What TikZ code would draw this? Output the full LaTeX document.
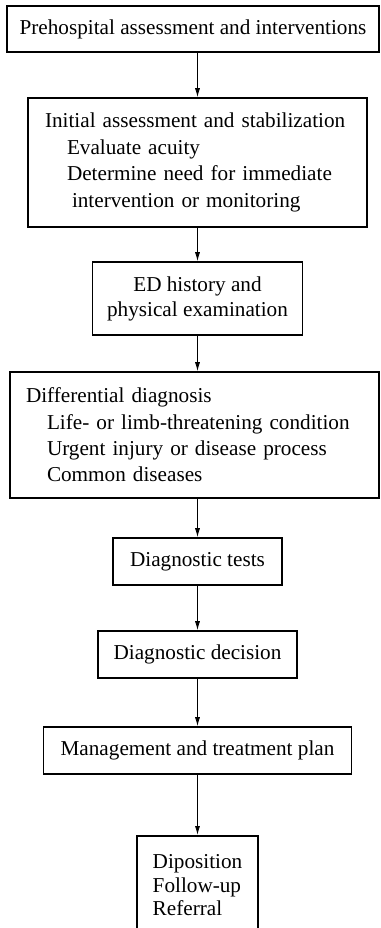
\documentclass[tikz,border=0pt]{standalone}
\usepackage{fontspec}
\setmainfont{Liberation Serif}
\usetikzlibrary{arrows.meta}

\begin{document}
\begin{tikzpicture}[x=1pt,y=-1pt,
  box/.style={draw, line width=1.6pt, inner sep=0pt, font=\fontsize{21.2}{26.4}\selectfont},
  arr/.style={line width=.8pt, -{Latex[length=9pt,width=5pt]}}]
\useasboundingbox (0,0) rectangle (380,928);

\node[box, minimum width=372pt, minimum height=46pt] (pre) at (193,29) {Prehospital assessment and interventions};
\node[box, minimum width=339pt, minimum height=129pt, inner xsep=17pt, text width=305pt, align=left] (init) at (197.5,162.5) {Initial assessment and stabilization\\
\hspace*{22pt}Evaluate acuity\\
\hspace*{22pt}Determine need for immediate\\
\hspace*{27pt}intervention or monitoring};
\node[box, minimum width=210pt, minimum height=73pt, align=center, font=\fontsize{21.2}{25}\selectfont] (ed) at (197.5,298.5) {ED history and\\physical examination};
\node[box, minimum width=369pt, minimum height=126pt, inner xsep=16pt, text width=337pt, align=left] (diff) at (194.5,435) {Differential diagnosis\\
\hspace*{21pt}Life- or limb-threatening condition\\
\hspace*{21pt}Urgent injury or disease process\\
\hspace*{21pt}Common diseases};
\node[box, minimum width=169pt, minimum height=47pt] (tests) at (197.5,561.5) {Diagnostic tests};
\node[box, minimum width=199pt, minimum height=47pt] (decision) at (197.5,654.5) {Diagnostic decision};
\node[box, minimum width=308pt, minimum height=47pt] (mgmt) at (197.5,750.5) {Management and treatment plan};
\node[box, minimum width=121pt, minimum height=99pt, anchor=north, align=left, font=\fontsize{21.2}{23.5}\selectfont] (dispo) at (197.5,835) {Diposition\\Follow-up\\Referral};

\begin{scope}[arr]
\draw (init |- pre.south) -- (init);
\draw (init) -- (ed);
\draw (ed.south) -- (ed.south |- diff.north);
\draw (tests |- diff.south) -- (tests);
\draw (tests) -- (decision);
\draw (decision) -- (mgmt);
\draw (mgmt) -- (dispo);
\end{scope}
\end{tikzpicture}
\end{document}
